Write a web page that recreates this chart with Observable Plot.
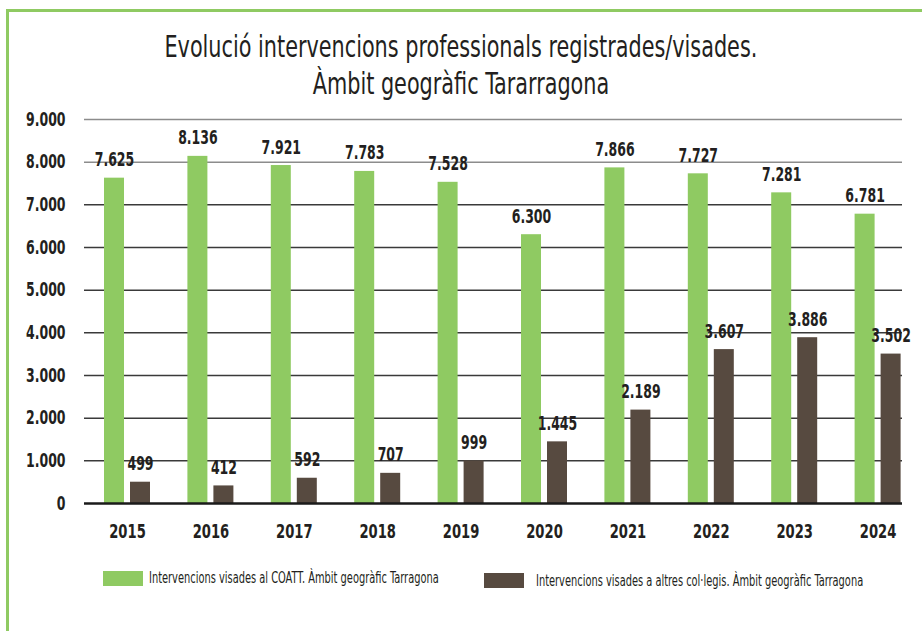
<!DOCTYPE html>
<html><head><meta charset="utf-8">
<script src="https://cdn.jsdelivr.net/npm/d3@7"></script>
<script src="https://cdn.jsdelivr.net/npm/@observablehq/plot@0.6"></script>
<style>
body{margin:0;background:#fff;}
#wrap{position:relative;width:922px;height:631px;overflow:hidden;background:#fff;font-family:"Liberation Sans Narrow","DejaVu Sans Condensed","Roboto",sans-serif;color:#231f20;}
#frame{position:absolute;left:6px;top:9px;right:-10px;bottom:-10px;border-top:3px solid #8fca62;border-left:3px solid #8fca62;}
#title{position:absolute;top:28px;left:0;width:922px;text-align:center;font-size:31px;line-height:37px;}
#title span{display:inline-block;transform:scaleX(0.745);white-space:nowrap;}
#chart{position:absolute;left:0;top:105px;}
.sw{position:absolute;width:40px;height:15px;}
.lt{position:absolute;font-size:15px;line-height:18px;white-space:nowrap;transform:scaleX(0.73);transform-origin:left center;}
</style>
</head><body>
<div id="wrap">
  <div id="frame"></div>
  <div id="title"></div>
  <div id="chart"></div>
  <div id="legend"></div>
</div>
<script>
const years = ["2015","2016","2017","2018","2019","2020","2021","2022","2023","2024"];
const coatt = [7625,8136,7921,7783,7528,6300,7866,7727,7281,6781];
const altres = [499,412,592,707,999,1445,2189,3607,3886,3502];
const yTicks = [0,1000,2000,3000,4000,5000,6000,7000,8000,9000];
const titleLines = ["Evolució intervencions professionals registrades/visades.","Àmbit geogràfic Tararragona"];
const seriesNames = ["Intervencions visades al COATT. Àmbit geogràfic Tarragona","Intervencions visades a altres col·legis. Àmbit geogràfic Tarragona"];

const GREEN = "#8fca62", DARK = "#574a40", INK = "#231f20";
const FONT = '"Liberation Sans Narrow","DejaVu Sans Condensed","Roboto",sans-serif';
const fmt = d3.formatLocale({decimal:",",thousands:".",grouping:[3],currency:["","€"]}).format(",d");

const dataA = years.map((y,i)=>({year:y, value:coatt[i]}));
const dataB = years.map((y,i)=>({year:y, value:altres[i]}));

document.getElementById("title").innerHTML = titleLines.map(t=>`<span>${t}</span>`).join("<br>");

const chart = Plot.plot({
  width: 922, height: 443,
  marginTop: 14, marginBottom: 45, marginLeft: 84, marginRight: 20,
  style: {fontFamily: FONT, fontSize: "18px", fontWeight: "bold", color: INK, background: "transparent", overflow: "visible"},
  x: {type: "band", domain: years, range: [85.3, 919.3], padding: 0, round: false, label: null},
  y: {domain: [0, 9000], label: null},
  marks: [
    Plot.ruleY(yTicks.filter(d => d >= 8000), {stroke: "#8c8c8c", strokeWidth: 1.5}),
    Plot.ruleY(yTicks.filter(d => d > 0 && d < 8000), {stroke: "#3a3a3a", strokeWidth: 1.5}),
    Plot.barY(dataA, {x: "year", y: "value", fill: GREEN, insetLeft: 18.7, insetRight: 44.7}),
    Plot.barY(dataB, {x: "year", y: "value", fill: DARK, insetLeft: 44.7, insetRight: 18.7}),
    Plot.ruleY([0], {stroke: "#1a1a1a", strokeWidth: 2.5}),
    Plot.text(dataA, {x: "year", y: "value", text: d => fmt(d.value), dx: -13, dy: -12, lineAnchor: "bottom", fontSize: 19, fill: INK}),
    Plot.text(dataB, {x: "year", y: "value", text: d => fmt(d.value), dx: 13, dy: -12, lineAnchor: "bottom", fontSize: 19, fill: INK}),
    Plot.axisY(yTicks, {tickSize: 0, tickPadding: 19, tickFormat: fmt, fontSize: 19, fill: INK, label: null}),
    Plot.axisX({tickSize: 0, tickPadding: 20, fontSize: 20, fill: INK, label: null})
  ]
});
// condense the SVG text horizontally around each text's own anchor point
chart.querySelectorAll("text").forEach(t => {
  const x = parseFloat(t.getAttribute("x")) || 0;
  const tr = t.getAttribute("transform") || "";
  t.setAttribute("transform", `${tr} translate(${x},0) scale(0.73,1) translate(${-x},0)`);
});
document.getElementById("chart").appendChild(chart);

const legend = document.getElementById("legend");
const legPos = [{sx:103, sy:571, tx:149, ty:569}, {sx:484, sy:573, tx:536, ty:572}];
[GREEN, DARK].forEach((c,i)=>{
  const p = legPos[i];
  const s = document.createElement("div");
  s.className = "sw"; s.style.left = p.sx+"px"; s.style.top = p.sy+"px"; s.style.background = c;
  legend.appendChild(s);
  const t = document.createElement("div");
  t.className = "lt"; t.style.left = p.tx+"px"; t.style.top = p.ty+"px"; t.textContent = seriesNames[i];
  legend.appendChild(t);
});
</script>
</body></html>
